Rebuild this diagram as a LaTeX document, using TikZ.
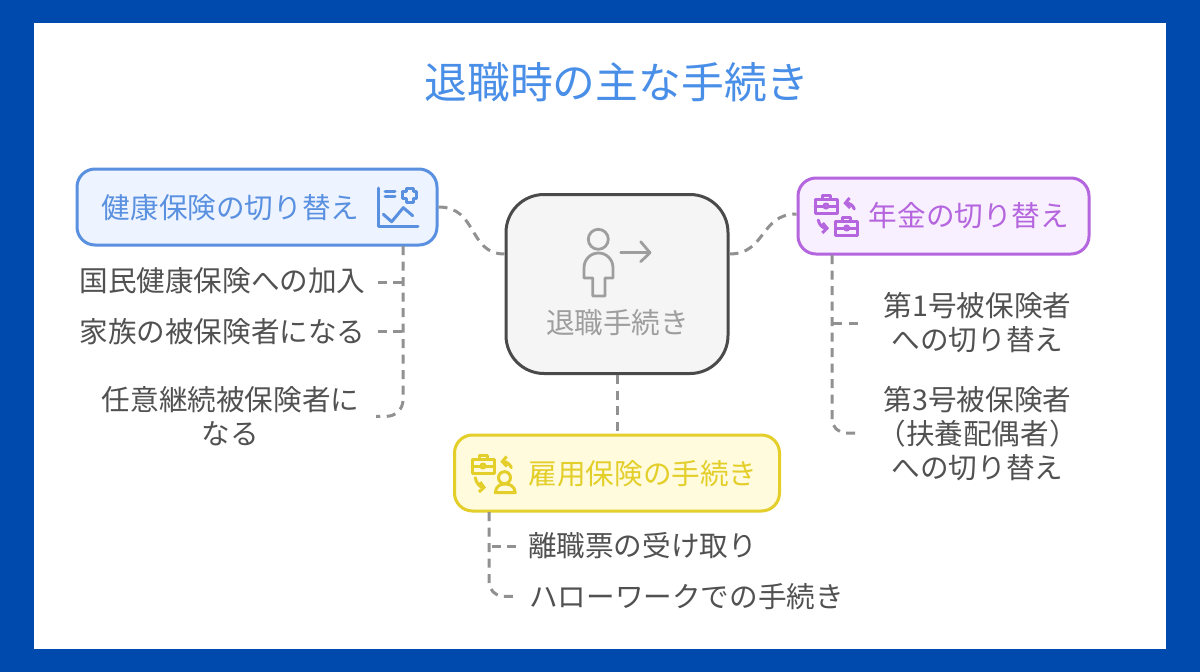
\documentclass[tikz,border=0pt]{standalone}
\usepackage{fontspec}
\setmainfont{Noto Sans CJK JP}
\usetikzlibrary{arrows.meta}
\definecolor{framecol}{HTML}{004AAD}
\definecolor{titlecol}{HTML}{4A8FE7}
\definecolor{bluecol}{HTML}{5A90E0}
\definecolor{bluefill}{HTML}{EEF4FF}
\definecolor{purplecol}{HTML}{B565DE}
\definecolor{purplefill}{HTML}{F8EFFF}
\definecolor{yellowcol}{HTML}{E3CE2A}
\definecolor{yellowfill}{HTML}{FFFBDC}
\definecolor{graycol}{HTML}{4A4A4A}
\definecolor{grayfill}{HTML}{F5F5F5}
\definecolor{textcol}{HTML}{515151}
\definecolor{linkcol}{HTML}{919191}
\definecolor{softcol}{HTML}{9E9E9E}
\tikzset{
  x=1pt, y=-1pt,
  label28/.style={inner sep=0pt, align=center, font=\fontsize{28.6}{34.3}\selectfont},
  item/.style={label28, text=textcol, outer sep=#1},
  item/.default=12pt,
  topic/.style={rectangle, rounded corners=18pt, line width=3pt, minimum height=76pt},
  link/.style={draw=linkcol, line width=3pt, dash pattern=on 9pt off 6.5pt},
  glyph/.style={line width=3pt, line join=round, line cap=round},
  swap/.style={glyph, -{Straight Barb[length=4.5pt,width=10pt]}},
  casepic/.pic={
    \draw[glyph] (-11,-7) rectangle (11,7);
    \draw[glyph] (-4,-7) -- (-4,-10.5) -- (4,-10.5) -- (4,-7);
    \draw[glyph] (-11,0) -- (-2.5,0) (2.5,0) -- (11,0);
    \draw[glyph] (0,0) circle (2);
  }
}
\begin{document}
\begin{tikzpicture}
  \useasboundingbox (0,0) rectangle (1200,672);
  \fill[framecol] (0,0) rectangle (1200,672);
  \fill[white] (34,23) rectangle (1166,649);

  \node (title) at (617,82) [inner sep=0pt, text=titlecol, font=\fontsize{42.8}{50}\selectfont] {退職時の主な手続き};

  % topics
  \node (retire) at (617,284) [rectangle, rounded corners=38pt, line width=3pt, draw=graycol, fill=grayfill, minimum width=222pt, minimum height=179pt] {};
  \node (retiretext) at (617.5,322.5) [label28, text=softcol] {退職手続き};
  \node (health) at (257,207) [topic, draw=bluecol, fill=bluefill, minimum width=360pt] {};
  \node (healthtext) at (230.5,207.5) [label28, text=bluecol] {健康保険の切り替え};
  \node (pension) at (943.5,216) [topic, draw=purplecol, fill=purplefill, minimum width=291pt] {};
  \node (pensiontext) at (969,215.5) [label28, text=purplecol] {年金の切り替え};
  \node (employ) at (617,473) [topic, draw=yellowcol, fill=yellowfill, minimum width=325pt] {};
  \node (employtext) at (643,473.5) [label28, text=yellowcol] {雇用保険の手続き};

  % items
  \node (join) at (222.5,280.5) [item] {国民健康保険への加入};
  \node (family) at (222.5,331.5) [item] {家族の被保険者になる};
  \node (optional) at (230.5,416.5) [item=17pt] {任意継続被保険者に\\なる};
  \node (first) at (977.5,322.5) [item=26pt] {第1号被保険者\\への切り替え};
  \node (third) at (977.5,433.5) [item=0pt] {第3号被保険者\\（扶養配偶者）\\への切り替え};
  \node (slip) at (642.5,545.5) [item=12pt] {離職票の受け取り};
  \node (hello) at (686.5,596.5) [item=14pt] {ハローワークでの手続き};

  % corners of the trees
  \coordinate (healthtop) at (403,246);
  \coordinate (healthone) at (403,282);
  \coordinate (healthtwo) at (403,331);
  \coordinate (healthend) at (403,416);
  \coordinate (pensiontop) at (832,255);
  \coordinate (pensionone) at (832,323);
  \coordinate (pensionend) at (832,433);
  \coordinate (thirdend) at (858,433);
  \coordinate (employtop) at (489,512);
  \coordinate (employone) at (489,546);
  \coordinate (employend) at (489,596);

  \begin{scope}[link]
    \draw (health.east |- 0,207) .. controls (478,207) and (468,254) .. (retire.west |- 0,254);
    \draw (retire.east |- 0,254) .. controls (766,254) and (760,214) .. (pension.west |- 0,214);
    \draw (retire.south) -- (employ.north);
    \draw[rounded corners=16pt] (healthtop) -- (healthend) -- (optional.east);
    \draw (join.east |- healthone) -- (healthone);
    \draw (family.east |- healthtwo) -- (healthtwo);
    \draw[rounded corners=14pt] (pensiontop) -- (pensionend) -- (thirdend);
    \draw (first.west |- pensionone) -- (pensionone);
    \draw[rounded corners=14pt] (employtop) -- (employend) -- (hello.west);
    \draw (slip.west |- employone) -- (employone);
  \end{scope}

  % retire icon
  \begin{scope}[softcol, line width=2.8pt, line join=round, line cap=round]
    \draw (598.3,239.3) circle (10);
    \draw (592.7,296) -- (592.7,278) -- (584,278) -- (584,268) .. controls (584,259) and (591,253) .. (598.5,253)
      .. controls (606,253) and (613,259) .. (613,268) -- (613,278) -- (605,278) -- (605,296) -- cycle;
    \draw (620.7,252.7) -- (650,252.7);
    \draw (640.7,241.7) -- (650,252.7) -- (640.7,261.7);
  \end{scope}

  % health icon
  \begin{scope}[bluecol, glyph]
    \draw (378.3,188) -- (378.3,226.7) -- (418,226.7);
    \draw (385,191) -- (395,191);
    \draw (385,196.7) -- (395,196.7);
    \draw (383.3,214.3) -- (391.7,221.7) -- (403.3,207.7) -- (412.7,215.7);
    \draw (406,188) -- (413,188) -- (413,191.5) -- (416.5,191.5) -- (416.5,198.5) -- (413,198.5) -- (413,202)
      -- (406,202) -- (406,198.5) -- (402.5,198.5) -- (402.5,191.5) -- (406,191.5) -- cycle;
  \end{scope}

  % pension icon
  \begin{scope}[purplecol]
    \pic[purplecol] at (826,206) {casepic};
    \pic[purplecol] at (846.7,228) {casepic};
    \draw[swap] (854.3,209) .. controls (853,205) and (849,203) .. (843.3,203.3);
    \draw[swap] (818.3,220) .. controls (819,225) and (823,228) .. (829,228.3);
  \end{scope}

  % employ icon
  \begin{scope}[yellowcol]
    \pic[yellowcol] at (483,466) {casepic};
    \draw[swap] (511.3,467.7) .. controls (510,464) and (506,461.5) .. (500.3,461.7);
    \draw[swap] (475.3,477.7) .. controls (476,483) and (480,487) .. (486,487.7);
    \draw[glyph] (504.5,477.7) circle (6);
    \draw[glyph] (495.3,492.7) .. controls (496,486) and (500,484) .. (505,484) .. controls (510,484) and (514.5,486) .. (515.3,492.7) -- cycle;
  \end{scope}
\end{tikzpicture}
\end{document}
